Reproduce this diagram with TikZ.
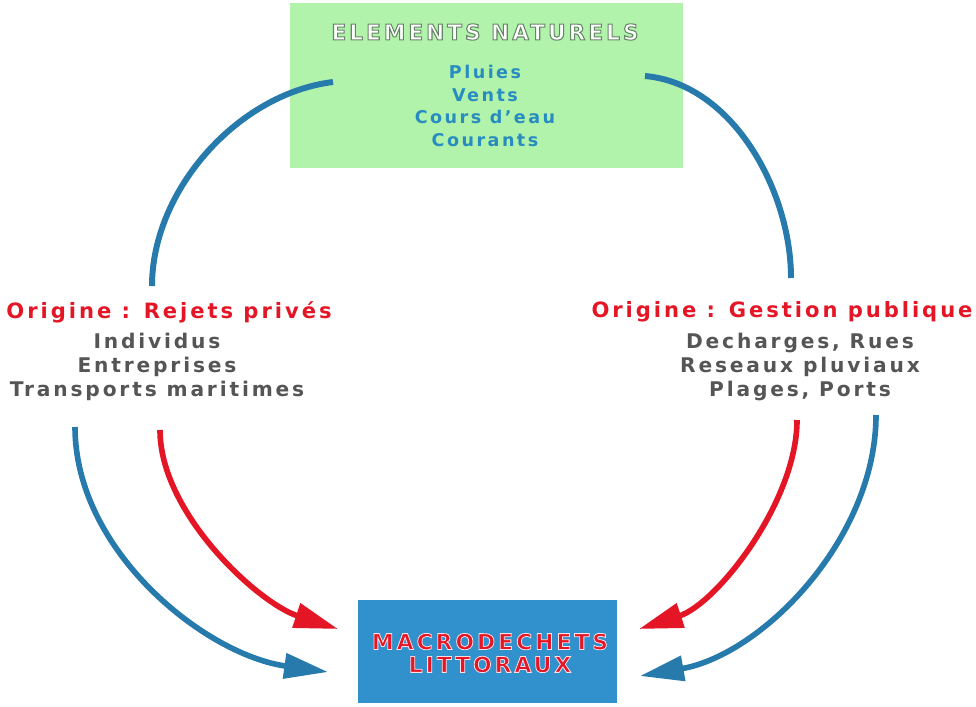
\documentclass[tikz,border=0pt]{standalone}
\usepackage{fontspec}
\setmainfont{DejaVu Sans}[LetterSpace=14]
\usetikzlibrary{arrows.meta}
\definecolor{vert}{RGB}{178,243,172}
\definecolor{bleu}{RGB}{48,145,205}
\definecolor{fleche}{RGB}{38,122,172}
\definecolor{rouge}{RGB}{228,22,38}
\definecolor{gris}{RGB}{85,85,85}
\definecolor{bleutexte}{RGB}{40,140,192}
% texte rempli puis contourne : #1 epaisseur, #2 couleur du trait (RGB 0-1)
\newcommand{\bordure}[3]{\special{pdf:literal direct 2 Tr #1 w #2 RG}#3\special{pdf:literal direct 0 Tr}}
\tikzset{
    titre/.style={font=\bfseries\fontsize{12}{14}\selectfont, text=rouge},
    liste/.style={font=\bfseries\fontsize{11.5}{13.6}\selectfont, text=gris, align=center},
    arcbleu/.style={draw=fleche, line width=3.4pt},
    flechebleue/.style={draw=fleche, line width=3.2pt, -{Triangle[length=25pt,width=14pt]}},
    flecherouge/.style={draw=rouge, line width=3.2pt, -{Triangle[length=25pt,width=14pt]}}
}
\begin{document}
\begin{tikzpicture}[x=0.02cm,y=-0.02cm]
    \useasboundingbox (0,0) rectangle (976,706);
    % boites
    \node[fill=vert, minimum width=7.86cm, minimum height=3.3cm, inner sep=0pt] (nature) at (486.5,85.5) {};
    \node[font=\bfseries\fontsize{12.3}{14}\selectfont, text=white] (titrenature) at (485,32) {\bordure{0.6}{0.40 0.52 0.40}{ELEMENTS NATURELS}};
    \node[font=\bfseries\fontsize{10}{13}\selectfont, text=bleutexte, align=center] (listenature) at (485,106) {Pluies\\Vents\\Cours d'eau\\Courants};
    \node[fill=bleu, minimum width=5.18cm, minimum height=2.06cm, inner sep=0pt] (dechets) at (487.5,651.5) {};
    \node[font=\bfseries\fontsize{12.4}{13}\selectfont, text=rouge, align=center] (titredechets) at (490,653) {\bordure{0.45}{1 0.88 0.9}{MACRODECHETS}\\\bordure{0.45}{1 0.88 0.9}{LITTORAUX}};
    % origines
    \node[titre] (prive) at (169,312) {Origine : Rejets privés};
    \node[liste] (listeprive) at (157,367) {Individus\\Entreprises\\Transports maritimes};
    \node[titre] (publique) at (782,312) {Origine : Gestion publique};
    \node[liste] (listepublique) at (800,367) {Decharges, Rues\\Reseaux pluviaux\\Plages, Ports};
    % points des fleches
    \coordinate (hg) at (333,82);
    \coordinate (hd) at (645,76);
    \coordinate (bg) at (152,286);
    \coordinate (bd) at (791,278);
    \coordinate (dbg) at (75,427);
    \coordinate (drg) at (160,430);
    \coordinate (drd) at (797,420);
    \coordinate (dbd) at (876,415);
    \coordinate (abg) at (328,672);
    \coordinate (arg) at (338,629);
    \coordinate (ard) at (639,629);
    \coordinate (abd) at (640,676);
    % arcs du haut
    \draw[arcbleu] (hg) to[out=187,in=90,looseness=0.9] (bg);
    \draw[arcbleu] (hd) to[out=-5,in=90,looseness=0.9] (bd);
    % fleches vers les macrodechets
    \draw[flechebleue] (dbg) to[out=-90,in=172,looseness=0.9] (abg);
    \draw[flecherouge] (drg) to[out=-90,in=162,looseness=0.8] (arg);
    \draw[flecherouge] (drd) to[out=-90,in=18,looseness=0.8] (ard);
    \draw[flechebleue] (dbd) to[out=-90,in=10,looseness=0.9] (abd);
\end{tikzpicture}
\end{document}
